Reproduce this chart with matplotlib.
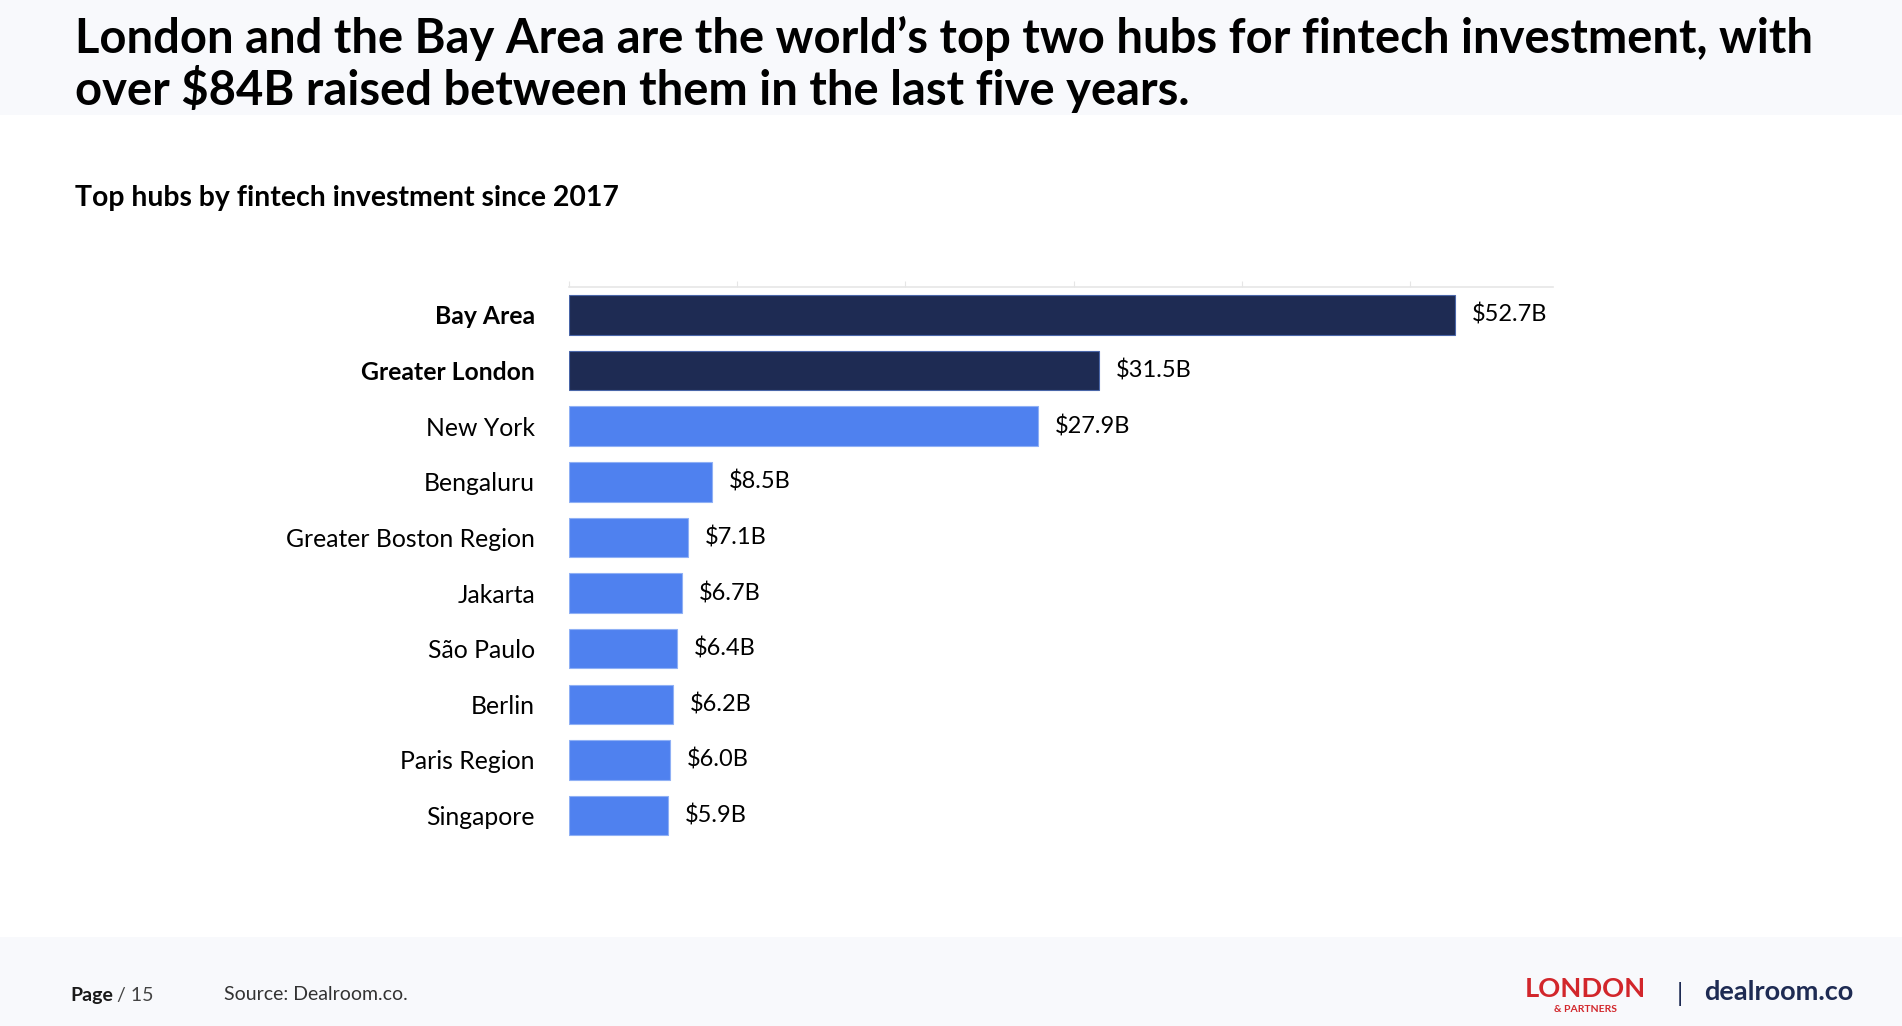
import matplotlib
matplotlib.use('Agg')
import matplotlib.pyplot as plt
from matplotlib.patches import Rectangle

hubs = ['Bay Area', 'Greater London', 'New York', 'Bengaluru', 'Greater Boston Region',
        'Jakarta', 'São Paulo', 'Berlin', 'Paris Region', 'Singapore']
investment = [52.7, 31.5, 27.9, 8.5, 7.1, 6.7, 6.4, 6.2, 6.0, 5.9]
highlight = ['Bay Area', 'Greater London']

title = ("London and the Bay Area are the world\u2019s top two hubs for fintech investment, with\n"
         "over $84B raised between them in the last five years.")
subtitle = 'Top hubs by fintech investment since 2017'

NAVY = '#1e2b53'
BLUE = '#4f81ef'
BAND = '#f8f9fc'
FONT = 'Lato'

W, H = 1902, 1026
fig = plt.figure(figsize=(W / 100, H / 100), dpi=100)
fig.patch.set_facecolor('white')

# header and footer bands
fig.patches.append(Rectangle((0, 1 - 115 / H), 1, 115 / H, transform=fig.transFigure,
                             facecolor=BAND, edgecolor='none', zorder=0))
fig.patches.append(Rectangle((0, 0), 1, (H - 937) / H, transform=fig.transFigure,
                             facecolor=BAND, edgecolor='none', zorder=0))

fig.text(75 / W, 1 - 16 / H, title, ha='left', va='top', fontsize=33.9, fontweight='bold',
         family=FONT, color='black', linespacing=1.1)
fig.text(75 / W, 1 - 198 / H, subtitle, ha='left', va='center', fontsize=20.4,
         fontweight='bold', family=FONT, color='black')

# chart
ax = fig.add_axes([569 / W, 1 - 849 / H, (1553 - 569) / W, (849 - 287) / H])
colors = [NAVY if h in highlight else BLUE for h in hubs]
edges = ['#4a66a8' if h in highlight else '#8fb0f5' for h in hubs]
pos = list(range(len(hubs)))
ax.barh(pos, investment, height=0.71, color=colors, edgecolor=edges, linewidth=0.8)

for p, v in zip(pos, investment):
    ax.text(v + 1.0, p, f'${v}B', ha='left', va='center', fontsize=17, family=FONT,
            color='black')

ax.set_xlim(0, 58.5)
ax.set_ylim(9.6, -0.5)
ax.set_yticks(pos)
ax.set_yticklabels(hubs, fontsize=17.8, family=FONT, color='black')
for lbl in ax.get_yticklabels():
    if lbl.get_text() in highlight:
        lbl.set_fontweight('bold')
ax.tick_params(axis='y', length=0, pad=24.5)
ax.xaxis.tick_top()
ax.set_xticks(range(0, 60, 10))
ax.tick_params(axis='x', length=4, color='#e6e6e6', labeltop=False, labelbottom=False)
for s in ['left', 'right', 'bottom']:
    ax.spines[s].set_visible(False)
ax.spines['top'].set_color('#e6e6e6')
ax.spines['top'].set_linewidth(1.2)

# footer
fig.text(70 / W, 1 - 995 / H, 'Page', ha='left', va='center', fontsize=14,
         fontweight='bold', family=FONT, color='#1a1a1a')
fig.text(117 / W, 1 - 995 / H, '/ 15', ha='left', va='center', fontsize=14,
         family=FONT, color='#444444')
fig.text(224 / W, 1 - 995 / H, 'Source: Dealroom.co.', ha='left', va='center', fontsize=14,
         family=FONT, color='#333333')
fig.text(1585 / W, 1 - 989 / H, 'LONDON', ha='center', va='center', fontsize=19.6,
         fontweight='bold', family=FONT, color='#d2262b')
fig.text(1585 / W, 1 - 1010 / H, '& PARTNERS', ha='center', va='center', fontsize=7.5,
         fontweight='bold', family=FONT, color='#d2262b')
fig.text(1680 / W, 1 - 994 / H, '|', ha='center', va='center', fontsize=18,
         family=FONT, color=NAVY)
fig.text(1704 / W, 1 - 992 / H, 'dealroom.co', ha='left', va='center', fontsize=19.5,
         fontweight='bold', family=FONT, color=NAVY)

fig.savefig('out.png', dpi=100, facecolor=fig.get_facecolor())
